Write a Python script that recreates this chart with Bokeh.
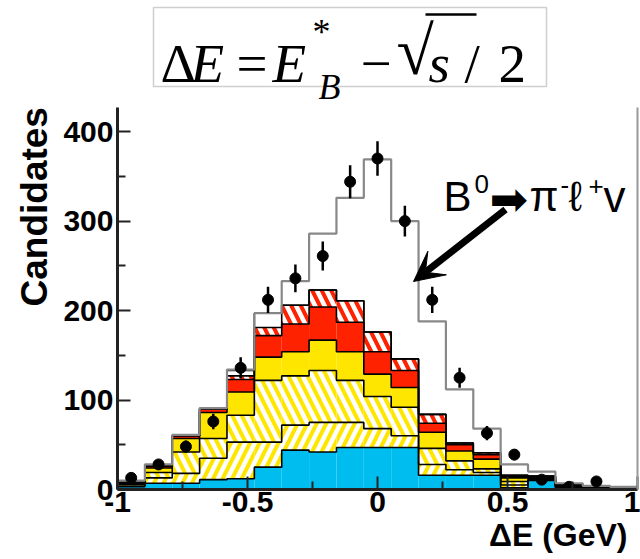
import numpy as np
from bokeh.plotting import figure
from bokeh.models import (Range1d, Label, Arrow, VeeHead, FixedTicker, BoxAnnotation,
                          LinearAxis, Title)
from bokeh.embed import file_html
from bokeh.resources import INLINE

# ---------------- data ----------------
bin_lo, bin_hi, n_bins = -1.0, 1.0, 19
# stacked MC components (counts per bin), bottom to top
cyan   = [3, 7, 7, 11, 12, 25, 44, 42, 47, 47, 47, 16, 16, 16, 2, 10, 2, 1, 1]
hatch1 = [2, 6, 11, 24, 41, 28, 28, 33, 28, 21, 13, 12, 6, 3, 3, 1, 1, 1, 0]
hatch2 = [1, 6, 24, 22, 30, 69, 55, 58, 47, 36, 32, 18, 10, 4, 4, 1, 1, 0, 0]
yellow = [1, 5, 15, 29, 26, 26, 27, 34, 32, 25, 22, 18, 11, 11, 4, 1, 0, 1, 0]
red    = [1, 2, 3, 4, 14, 24, 31, 37, 33, 25, 19, 10, 7, 5, 2, 1, 1, 0, 1]
redh   = [0, 1, 0, 0, 4, 9, 21, 19, 24, 22, 13, 10, 2, 2, 1, 1, 0, 0, 0]
other  = [0, 0, 0, 0, 6, 16, 0, 0, 0, 0, 0, 0, 0, 0, 0, 0, 0, 0, 0]
signal = [2, 1, 1, 1, 1, 0, 27, 63, 115, 193, 154, 104, 60, 27, 12, 5, 2, 1, 1]
# data points
data_y   = [13, 28, 48, 76, 136, 212, 236, 261, 344, 370, 300, 212, 125, 63, 39, 11, 3, 9, np.nan]
data_err = [3.6, 5.3, 6.9, 8.7, 11.7, 14.6, 15.4, 16.2, 18.5, 19.2, 17.3, 14.6, 11.2, 7.9, 6.2, 3.3, 1.7, 3.0, np.nan]
# axes
x_ticks = [-1, -0.5, 0, 0.5, 1]
x_tick_labels = ["-1", "-0.5", "0", "0.5", "1"]
x_minor = [-0.75, -0.25, 0.25, 0.75]
y_ticks = [0, 100, 200, 300, 400]
y_minor = [50, 150, 250, 350]
y_axis_max = 427

edges = np.linspace(bin_lo, bin_hi, n_bins + 1)
centers = 0.5 * (edges[:-1] + edges[1:])

layers = [cyan, hatch1, hatch2, yellow, red, redh, other, signal]
tops = np.cumsum(np.array(layers, dtype=float), axis=0)
bottoms = np.vstack([np.zeros(n_bins), tops[:-1]])

fills = ["#00BDF0", "white", "white", "#FFE600", "#FF2200", "white", "white", None]
hatches = [None, "/", "\\", None, None, "\\", None, None]
hatch_cols = [None, "#FFE600", "#FFE600", None, None, "#FF2200", None, None]

SANS = "Liberation Sans"
SERIF = "Liberation Serif"

W, H = 640, 559
FL, FR, FB = 117, 637, 489      # frame left/right/bottom in page pixels
AXT = 107                       # page y of the top of the y axis (value y_axis_max)


def dx(px):
    return -1 + 2 * (px - FL) / (FR - FL)


def dy(py):
    return (FB - py) * y_axis_max / (FB - AXT)


p = figure(width=W, height=H, x_range=Range1d(-1, 1), y_range=Range1d(0, dy(0)),
           output_backend="svg", toolbar_location=None,
           min_border_left=FL, min_border_right=W - FR, min_border_top=0,
           min_border_bottom=H - FB)
p.outline_line_color = None
p.xgrid.visible = False
p.ygrid.visible = False


def lab(x, y, t, size, style="normal", font=SANS, align="left"):
    p.add_layout(Label(x=x, y=y, text=t, text_font=font, text_font_size=f"{size}px",
                       text_font_style=style, text_baseline="alphabetic",
                       text_align=align, text_color="black"))


# ---------------- formula header (inside the frame, above the axes' extent) ----------------
p.add_layout(BoxAnnotation(left=dx(153), right=dx(546), top=dy(7), bottom=dy(86),
                           fill_color="white", fill_alpha=1.0,
                           line_color="#cfcfcf", line_width=1.5, line_alpha=1.0))
lab(dx(160), dy(63), "Δ", 55, font=SERIF)
lab(dx(190), dy(63), "E", 55, "italic", font=SERIF)
lab(dx(236), dy(63), "=", 55, font=SERIF)
lab(dx(272), dy(63), "E", 55, "italic", font=SERIF)
lab(dx(312), dy(31), "*", 36, font=SERIF)
lab(dx(318), dy(86), "B", 36, "italic", font=SERIF)
lab(dx(360), dy(63), "−", 55, font=SERIF)
lab(dx(396), dy(50), "√", 68, font=SERIF)
p.add_layout(Arrow(end=None, x_start=dx(425), y_start=dy(14), x_end=dx(476), y_end=dy(14),
                   line_color="black", line_width=2.5))
lab(dx(428), dy(63), "s", 55, "italic", font=SERIF)
lab(dx(464), dy(63), "/", 55, font=SERIF)
lab(dx(498), dy(63), "2", 55, font=SERIF)

# ---------------- main histogram ----------------
for i in range(len(layers) - 1):
    kw = dict(left=edges[:-1], right=edges[1:], bottom=bottoms[i], top=tops[i],
              fill_color=fills[i], line_color=None)
    if hatches[i]:
        kw.update(hatch_pattern=hatches[i], hatch_color=hatch_cols[i],
                  hatch_weight=4, hatch_scale=19)
    p.quad(**kw)

xs = np.repeat(edges, 2)[1:-1]
for i in range(len(layers) - 1):
    p.line(xs, np.repeat(tops[i], 2), line_color="black", line_width=1.6)
# total (with signal)
p.line(xs, np.repeat(tops[-1], 2), line_color="#888888", line_width=2.2)

# data points
yv = np.array(data_y, dtype=float)
ev = np.array(data_err, dtype=float)
p.segment(x0=centers, y0=yv - ev, x1=centers, y1=yv + ev, line_color="black", line_width=2.5)
p.scatter(x=centers, y=yv, size=11, color="black")

# axes
for ax in (p.xaxis[0], p.yaxis[0]):
    ax.axis_line_width = 3
    ax.axis_line_color = "#222222"
    ax.major_tick_in = 13
    ax.major_tick_out = 0
    ax.minor_tick_in = 8
    ax.minor_tick_out = 0
    ax.major_tick_line_width = 2
    ax.minor_tick_line_width = 2
    ax.major_tick_line_color = "#222222"
    ax.minor_tick_line_color = "#222222"
    ax.major_label_text_font = SANS
    ax.major_label_text_font_style = "bold"
    ax.major_label_text_color = "black"

p.xaxis[0].ticker = FixedTicker(ticks=x_ticks, minor_ticks=x_minor)
p.xaxis[0].major_label_overrides = {t: l for t, l in zip(x_ticks, x_tick_labels)}
p.xaxis[0].major_label_text_font_size = "30px"
p.xaxis[0].major_label_standoff = 2
p.yaxis[0].ticker = FixedTicker(ticks=y_ticks, minor_ticks=y_minor)
p.yaxis[0].bounds = (0, y_axis_max)
p.yaxis[0].major_label_text_font_size = "30px"
p.yaxis[0].major_label_standoff = 4

# right frame border
rax = LinearAxis(ticker=FixedTicker(ticks=[]), bounds=(0, y_axis_max),
                 axis_line_color="#999999", axis_line_width=2,
                 major_tick_in=0, major_tick_out=0, minor_tick_in=0, minor_tick_out=0,
                 major_label_standoff=0)
p.add_layout(rax, "right")

# axis titles
p.add_layout(Title(text="Candidates", align="left", offset=183, standoff=11,
                   text_font=SANS, text_font_style="bold", text_font_size="37px",
                   text_color="black"), "left")
p.add_layout(Title(text="ΔE (GeV)", align="right", offset=10, standoff=0,
                   text_font=SANS, text_font_style="bold", text_font_size="32px",
                   text_color="black"), "below")

# annotation
p.add_layout(Arrow(end=VeeHead(size=30, fill_color="black", line_color="black"),
                   x_start=dx(505), y_start=dy(209), x_end=dx(413), y_end=dy(281),
                   line_width=7, line_color="black"))
lab(dx(443), dy(196), "B", 42)
lab(dx(474), dy(183), "0", 26)
lab(dx(489), dy(198), "➡", 46, font="DejaVu Sans")
lab(dx(529), dy(196), "π", 42)
lab(dx(560), dy(184), "-", 26)
lab(dx(568), dy(196), "ℓ", 42)
lab(dx(588), dy(185), "+", 26)
lab(dx(603), dy(196), "v", 44)

open("out.html", "w").write(file_html(p, INLINE))
